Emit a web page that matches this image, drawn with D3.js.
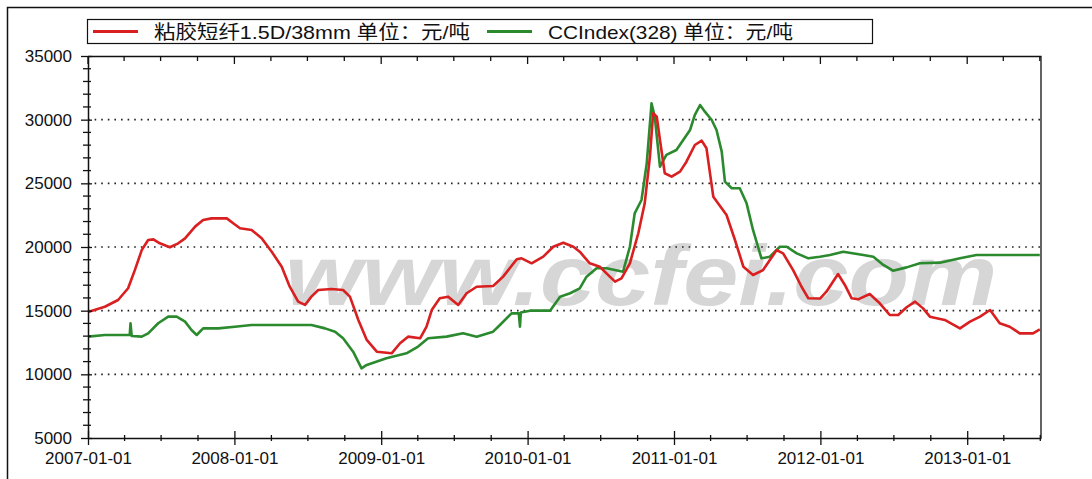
<!DOCTYPE html>
<html lang="zh">
<head>
<meta charset="utf-8">
<title>粘胶短纤 vs CCIndex</title>
<script src="https://cdnjs.cloudflare.com/ajax/libs/d3/7.8.5/d3.min.js"></script>
<style>
  html, body { margin: 0; padding: 0; background: #fff; }
  svg { display: block; font-family: "Liberation Sans", Arial, "Noto Sans CJK SC", sans-serif; }
  .tick text { font-size: 17px; fill: #111; }
  .grid line { stroke: #222; stroke-width: 1.6; stroke-dasharray: 1.6 5; }
</style>
</head>
<body>
<script>
// legend labels
var seriesNames = ["粘胶短纤1.5D/38mm 单位：元/吨", "CCIndex(328) 单位：元/吨"];

// 粘胶短纤 price (red)
var redDates = ["2007-01-01","2007-02-12","2007-03-17","2007-04-11","2007-04-28","2007-05-15","2007-05-31","2007-06-13",
  "2007-06-29","2007-07-24","2007-08-14","2007-08-31","2007-09-25","2007-10-15","2007-11-05","2007-12-13","2007-12-29",
  "2008-01-15","2008-02-13","2008-03-09","2008-04-03","2008-04-28","2008-05-18","2008-06-08","2008-06-25","2008-07-11",
  "2008-07-28","2008-08-30","2008-09-28","2008-10-15","2008-11-05","2008-11-26","2008-12-21","2009-01-27","2009-02-17",
  "2009-03-09","2009-04-08","2009-04-24","2009-05-07","2009-05-27","2009-06-17","2009-07-12","2009-08-02","2009-08-27",
  "2009-10-07","2009-11-01","2009-12-05","2009-12-17","2010-01-11","2010-02-09","2010-03-06","2010-03-31","2010-04-25",
  "2010-05-11","2010-06-05","2010-06-30","2010-07-25","2010-08-07","2010-08-23","2010-09-13","2010-10-04","2010-10-20",
  "2010-11-02","2010-11-10","2010-11-19","2010-11-27","2010-12-09","2010-12-26","2011-01-16","2011-02-01","2011-02-22",
  "2011-03-11","2011-03-23","2011-04-09","2011-05-12","2011-06-02","2011-06-23","2011-07-17","2011-08-11","2011-09-14",
  "2011-09-30","2011-10-25","2011-11-15","2011-12-02","2011-12-31","2012-01-16","2012-02-14","2012-03-02","2012-03-19",
  "2012-04-04","2012-05-03","2012-05-28","2012-06-22","2012-07-13","2012-08-03","2012-08-24","2012-09-13","2012-09-30",
  "2012-11-06","2012-12-14","2013-01-08","2013-02-02","2013-02-27","2013-03-23","2013-04-17","2013-05-12","2013-06-14",
  "2013-07-01"];
var redValues = [14900,15310,15840,16760,18200,19760,20550,20600,
  20290,19980,20290,20680,21600,22120,22250,22250,21860,
  21470,21340,20680,19630,18450,16880,15710,15450,16100,
  16620,16700,16620,16100,14270,12700,11780,11650,12440,
  12960,12830,13740,15050,15970,16100,15450,16370,16880,
  16940,17670,19040,19110,18720,19240,20020,20340,20020,
  19630,18720,18450,17670,17280,17540,18720,21080,23430,
  27100,30500,30230,28400,25790,25520,25920,26700,28010,
  28350,27750,23950,22510,20550,18450,17800,18190,19760,
  19500,18190,16880,15970,15950,16490,17880,17020,15970,
  15890,16310,15580,14660,14660,15270,15710,15180,14530,
  14270,13610,14140,14530,15050,14010,13740,13220,13220,
  13530];

// CCIndex(328) (green)
var greenDates = ["2007-01-01","2007-02-12","2007-04-15","2007-04-17","2007-04-20","2007-05-15","2007-05-31","2007-06-25",
  "2007-07-20","2007-08-10","2007-08-31","2007-09-16","2007-09-29","2007-10-15","2007-11-22","2008-01-02","2008-02-13",
  "2008-05-06","2008-07-11","2008-08-14","2008-09-08","2008-09-28","2008-10-23","2008-11-13","2008-11-26","2009-01-14",
  "2009-03-05","2009-04-03","2009-04-28","2009-06-13","2009-07-24","2009-08-27","2009-10-07","2009-10-24","2009-11-22",
  "2009-12-10","2009-12-13","2009-12-15","2010-01-07","2010-02-26","2010-03-23","2010-04-17","2010-05-11","2010-05-28",
  "2010-06-22","2010-07-17","2010-08-27","2010-09-13","2010-09-25","2010-10-12","2010-10-25","2010-11-06","2010-11-14",
  "2010-11-27","2010-12-13","2011-01-07","2011-01-24","2011-02-10","2011-02-22","2011-03-07","2011-03-19","2011-04-05",
  "2011-04-17","2011-04-30","2011-05-08","2011-05-25","2011-06-14","2011-07-01","2011-07-17","2011-08-07","2011-08-28",
  "2011-09-22","2011-10-09","2011-11-03","2011-12-02","2011-12-31","2012-01-25","2012-02-27","2012-04-17","2012-05-12",
  "2012-06-06","2012-06-30","2012-08-03","2012-09-05","2012-10-25","2012-12-14","2013-01-24","2013-07-01"];
var greenValues = [12960,13090,13090,14000,13010,12960,13220,14010,
  14530,14530,14140,13480,13090,13610,13610,13740,13870,
  13870,13870,13610,13350,12830,11780,10470,10740,11260,
  11650,12180,12830,12960,13220,12960,13350,13870,14790,
  14800,13740,14850,15000,15000,16100,16370,16750,17670,
  18330,18330,18060,20020,22640,23690,26570,31290,30230,
  26310,27230,27620,28400,29190,30370,31150,30630,29970,
  29190,27490,25130,24610,24610,23430,21340,19110,19240,
  20020,20020,19500,19110,19240,19370,19630,19370,19240,
  18590,18140,18400,18720,18770,19110,19370,19370];

var yTicks = [5000, 10000, 15000, 20000, 25000, 30000, 35000];
var xTickLabels = ["2007-01-01","2008-01-01","2009-01-01","2010-01-01","2011-01-01","2012-01-01","2013-01-01"];

var W = 1092, H = 479;
var margin = {top: 56, right: 51, bottom: 41, left: 88};
var width = W - margin.left - margin.right;
var height = H - margin.top - margin.bottom;
var parse = d3.timeParse("%Y-%m-%d");

var svg = d3.select("body").append("svg").attr("width", W).attr("height", H);

// outer frame (left and top edge visible)
svg.append("path").attr("d", "M7.5,479V7.5H1092").attr("fill", "none").attr("stroke", "#111").attr("stroke-width", 1.5);

var g = svg.append("g").attr("transform", "translate(" + margin.left + "," + margin.top + ")");

var x = d3.scaleTime().domain([parse("2007-01-01"), parse("2013-07-04")]).range([0, width]);
var y = d3.scaleLinear().domain([5000, 35000]).range([height, 0]);

// watermark
g.append("text")
  .attr("x", 197).attr("y", 249)
  .attr("textLength", 712).attr("lengthAdjust", "spacingAndGlyphs")
  .style("font-size", "86px").style("font-weight", "bold").style("font-style", "italic")
  .style("font-family", "'Liberation Sans', Arial, sans-serif")
  .attr("fill", "#d6d6d6")
  .text("www.ccfei.com");

// dotted gridlines
g.append("g").attr("class", "grid")
  .selectAll("line").data(yTicks.filter(function(d) { return d > 5000 && d < 35000; }))
  .enter().append("line")
  .attr("x1", 0).attr("x2", width)
  .attr("y1", function(d) { return y(d); }).attr("y2", function(d) { return y(d); });

// series lines
var line = d3.line()
  .x(function(d) { return x(d[0]); })
  .y(function(d) { return y(d[1]); });

var redData = redDates.map(function(d, i) { return [parse(d), redValues[i]]; });
var greenData = greenDates.map(function(d, i) { return [parse(d), greenValues[i]]; });

g.append("path").datum(greenData).attr("d", line)
  .attr("fill", "none").attr("stroke", "#2b8a2e").attr("stroke-width", 2.6).attr("stroke-linejoin", "round");
g.append("path").datum(redData).attr("d", line)
  .attr("fill", "none").attr("stroke", "#d91f1f").attr("stroke-width", 2.6).attr("stroke-linejoin", "round");

// frame top / right
g.append("path").attr("d", "M0,0.5H" + width + "V" + height)
  .attr("fill", "none").attr("stroke", "#111").attr("stroke-width", 1.3);

// quarterly ticks
var quarters = d3.timeMonth.every(3).range(x.domain()[0], x.domain()[1]);
var years = quarters.filter(function(d) { return d.getMonth() === 0; });

// top edge ticks
g.append("g").selectAll("line").data(quarters).enter().append("line")
  .attr("x1", function(d) { return x(d); }).attr("x2", function(d) { return x(d); })
  .attr("y1", 0).attr("y2", function(d) { return d.getMonth() === 0 ? 8 : 5; })
  .attr("stroke", "#111").attr("stroke-width", 1.3);

// x axis
var xAxis = d3.axisBottom(x).tickValues(quarters).tickSizeOuter(0)
  .tickFormat(function(d) { return d.getMonth() === 0 ? d3.timeFormat("%Y-%m-%d")(d) : ""; });
var gx = g.append("g").attr("transform", "translate(0," + height + ")").call(xAxis);
gx.select(".domain").attr("stroke", "#111").attr("stroke-width", 1.5);
gx.selectAll(".tick line")
  .attr("stroke", "#111").attr("stroke-width", 1.3)
  .attr("y1", function(d) { return d.getMonth() === 0 ? -7 : -3; })
  .attr("y2", function(d) { return d.getMonth() === 0 ? 7 : 3; });
gx.selectAll(".tick text").attr("y", 14).attr("dy", "0.71em");

// y axis: major every 5000, minor every 1000
var yAxis = d3.axisLeft(y).tickValues(yTicks).tickSizeOuter(0).tickFormat(d3.format("d"));
var gy = g.append("g").call(yAxis);
gy.select(".domain").attr("stroke", "#111").attr("stroke-width", 1.5);
gy.selectAll(".tick line").attr("stroke", "#111").attr("stroke-width", 1.3).attr("x1", 4).attr("x2", -7);
gy.selectAll(".tick text").attr("x", -16);
gy.selectAll(".minor").data(d3.range(6000, 35000, 1000).filter(function(d) { return d % 5000 !== 0; }))
  .enter().append("line").attr("class", "minor")
  .attr("x1", -5).attr("x2", 3)
  .attr("y1", function(d) { return y(d); }).attr("y2", function(d) { return y(d); })
  .attr("stroke", "#111").attr("stroke-width", 1.3);

// legend
var legend = svg.append("g");
legend.append("rect").attr("x", 87.5).attr("y", 19.5).attr("width", 785).attr("height", 24)
  .attr("fill", "#fff").attr("stroke", "#111").attr("stroke-width", 1.2);
var legendItems = [
  {name: seriesNames[0], color: "#d91f1f", x0: 93, tx: 154, tw: 316},
  {name: seriesNames[1], color: "#2b8a2e", x0: 487, tx: 548, tw: 245}
];
legendItems.forEach(function(it) {
  legend.append("line").attr("x1", it.x0).attr("x2", it.x0 + 45).attr("y1", 31.5).attr("y2", 31.5)
    .attr("stroke", it.color).attr("stroke-width", 3);
  legend.append("text").attr("x", it.tx).attr("y", 38.5)
    .attr("textLength", it.tw).attr("lengthAdjust", "spacingAndGlyphs")
    .style("font-size", "19px").attr("fill", "#111").text(it.name);
});
</script>
</body>
</html>
